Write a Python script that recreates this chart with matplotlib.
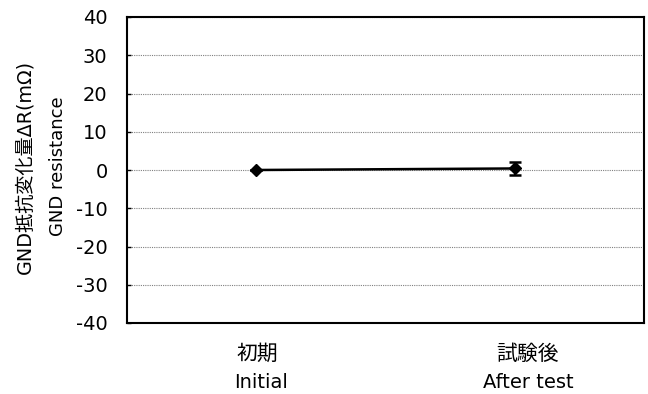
import matplotlib
matplotlib.use("Agg")
import matplotlib.pyplot as plt
from matplotlib.transforms import blended_transform_factory, offset_copy

plt.rcParams['font.family'] = ['DejaVu Sans', 'Noto Sans CJK JP']
plt.rcParams['axes.unicode_minus'] = False

categories_jp = ["初期", "試験後"]
categories_en = ["Initial", "After test"]
delta_r = [0.0, 0.4]
delta_err = [0.0, 1.6]
y_ticks = [40, 30, 20, 10, 0, -10, -20, -30, -40]

fig = plt.figure(figsize=(6.48, 3.94), dpi=100)
ax = fig.add_axes([127 / 648, 1 - 323 / 394, (644 - 127) / 648, (323 - 17) / 394])

x = list(range(len(categories_jp)))
ax.errorbar(x, delta_r, yerr=delta_err, color='black', lw=1.8, marker='D',
            markersize=6, capsize=4, capthick=1.8, elinewidth=1.5, zorder=3)

ax.set_xlim(-0.5, 1.5)
ax.set_ylim(-40, 40)
ax.set_yticks(y_ticks)
ax.set_yticklabels([str(v) for v in y_ticks], fontsize=14)
ax.set_xticks(x)
ax.set_xticklabels([])
ax.tick_params(axis='x', length=0)
ax.tick_params(axis='y', direction='in', length=3, width=1, pad=14)
ax.yaxis.grid(True, color='#808080', linestyle=(0, (1, 1)), linewidth=0.8)
ax.set_axisbelow(True)
for s in ax.spines.values():
    s.set_linewidth(1.5)

# two-line category labels (Japanese above, English below), nudged right
trans = blended_transform_factory(ax.transData, fig.transFigure)
label_shift = [(1, 5), (13, 14)]  # pixel nudges (jp, en) per category
for xi, jp, en, (dj, de) in zip(x, categories_jp, categories_en, label_shift):
    ax.text(xi, 1 - 354 / 394, jp,
            transform=offset_copy(trans, fig=fig, x=dj, units='dots'),
            ha='center', va='center', fontsize=15,
            family=['Noto Sans CJK JP', 'DejaVu Sans'])
    ax.text(xi, 1 - 383 / 394, en,
            transform=offset_copy(trans, fig=fig, x=de, units='dots'),
            ha='center', va='center', fontsize=14)

fig.text(25 / 648, 1 - 166.5 / 394, "GND抵抗変化量ΔR(mΩ)", rotation=90,
         ha='center', va='center', fontsize=13.8)
fig.text(58 / 648, 1 - 166.5 / 394, "GND resistance", rotation=90,
         ha='center', va='center', fontsize=13)

fig.savefig("out.png", dpi=100)
